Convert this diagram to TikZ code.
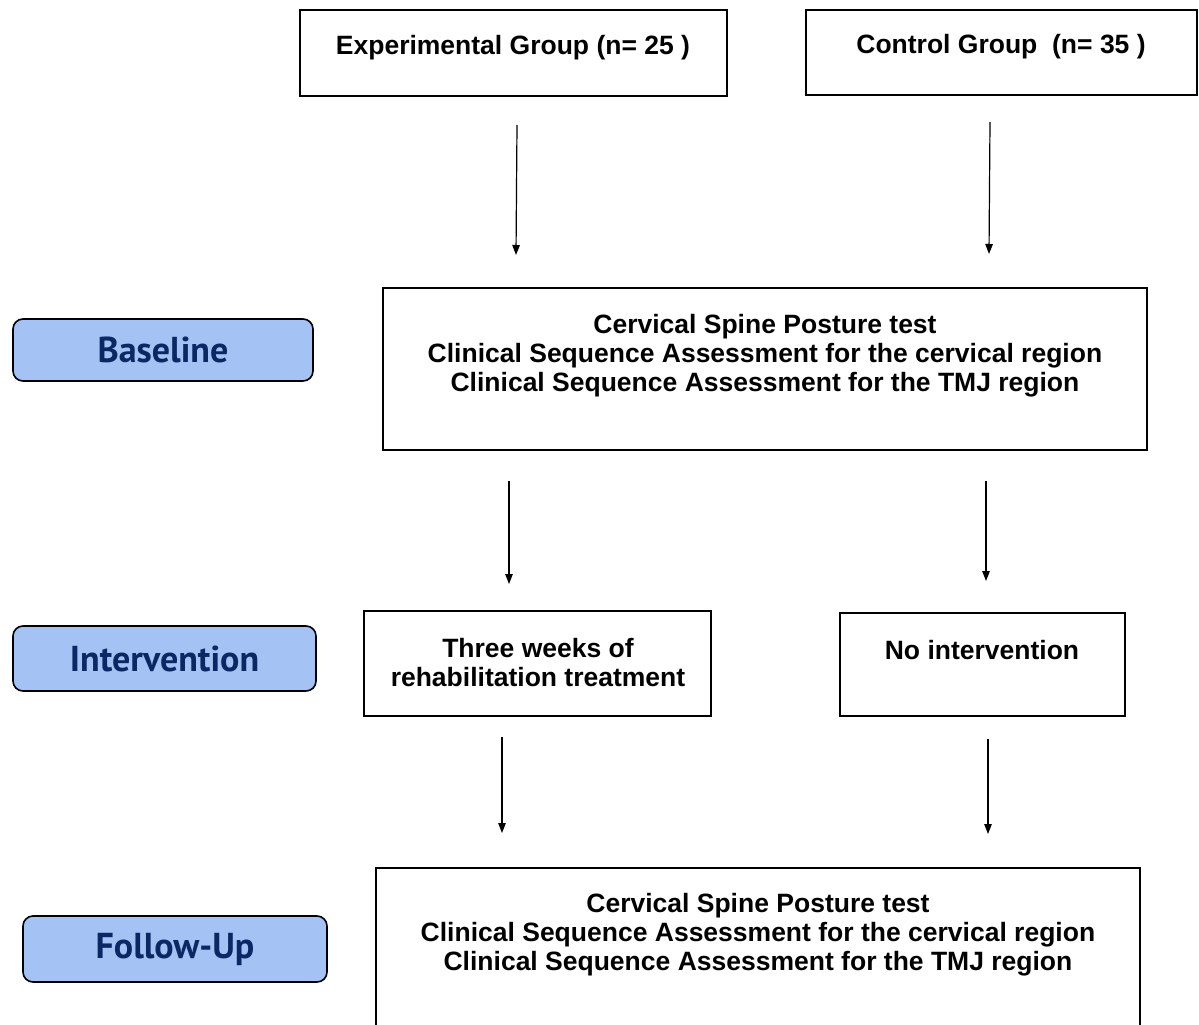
\documentclass[tikz,border=0pt]{standalone}
\usepackage{fontspec}
\setmainfont{Liberation Sans}
\newfontfamily\ptsans{PT Sans}
\usetikzlibrary{arrows.meta}
\definecolor{phasefill}{HTML}{A4C2F4}
\definecolor{phasetext}{HTML}{0C2864}
\begin{document}
\begin{tikzpicture}[x=1pt,y=-1pt,
 box/.style={draw=black,line width=1.5pt,inner sep=0pt},
 txt/.style={font=\fontsize{26.5}{29}\selectfont\bfseries,align=center,inner sep=0pt},
 phase/.style={draw=black,line width=1.6pt,rounded corners=10pt,fill=phasefill,text=phasetext,font=\ptsans\fontsize{36}{40}\selectfont\bfseries,inner sep=0pt},
 arr/.style={line width=1.2pt,-{Triangle[length=10pt,width=7.5pt]}}]
\useasboundingbox (0,0) rectangle (1199,1025);

% top group boxes
\node[box,minimum width=427pt,minimum height=86pt] (exp) at (513.5,53) {};
\node[txt] (expt) at (513,48) {Experimental Group (n= 25 )};
\node[box,minimum width=391pt,minimum height=85pt] (ctl) at (1001.5,52.5) {};
\node[txt] (ctlt) at (1001,47) {Control Group\ \ (n= 35 )};

% baseline box
\node[box,minimum width=764pt,minimum height=162pt] (base) at (765,369) {};
\node[txt] (baset) at (765,356) {Cervical Spine Posture test\\Clinical Sequence Assessment for the cervical region\\Clinical Sequence Assessment for the TMJ region};

% intervention boxes
\node[box,minimum width=347pt,minimum height=105pt] (int1) at (537.5,663.5) {};
\node[txt] (int1t) at (538,663) {Three weeks of\\rehabilitation treatment};
\node[box,minimum width=285pt,minimum height=103pt] (int2) at (982.5,664.5) {};
\node[txt] (int2t) at (982,650) {No intervention};

% follow-up box (cut off at the bottom)
\begin{scope}
\clip (0,0) rectangle (1199,1025);
\node[box,minimum width=764pt,minimum height=200pt] (fu) at (758,968) {};
\end{scope}
\node[txt] (fut) at (758,935) {Cervical Spine Posture test\\Clinical Sequence Assessment for the cervical region\\Clinical Sequence Assessment for the TMJ region};

% phase labels
\node[phase,minimum width=300pt,minimum height=62pt] (pb) at (163,350) {Baseline};
\node[phase,minimum width=303pt,minimum height=65pt] (pi) at (164.5,658.5) {Intervention};
\node[phase,minimum width=304pt,minimum height=66pt] (pf) at (175,949) {Follow-Up};

% arrow end points
\coordinate (a1s) at (517,125); \coordinate (a1e) at (516,255);
\coordinate (a2s) at (990,122); \coordinate (a2e) at (989,254);
\coordinate (a3s) at (509,481); \coordinate (a3e) at (509,584);
\coordinate (a4s) at (986,481); \coordinate (a4e) at (986,581);
\coordinate (a5s) at (502,737); \coordinate (a5e) at (502,833);
\coordinate (a6s) at (988,739); \coordinate (a6e) at (988,834);

\draw[arr] (a1s) -- (a1e);
\draw[arr] (a2s) -- (a2e);
\draw[arr] (a3s) -- (a3e);
\draw[arr] (a4s) -- (a4e);
\draw[arr] (a5s) -- (a5e);
\draw[arr] (a6s) -- (a6e);
\end{tikzpicture}
\end{document}
